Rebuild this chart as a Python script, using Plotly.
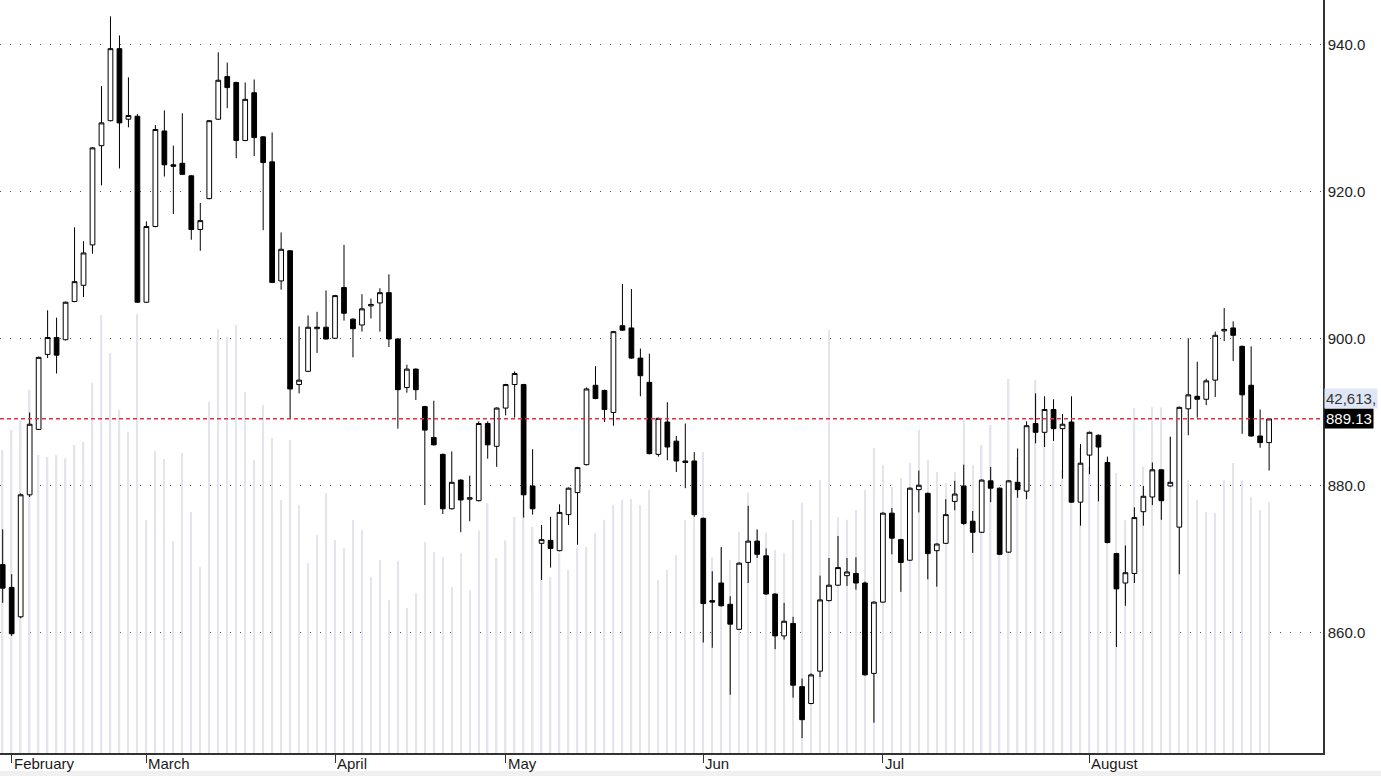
import plotly.graph_objects as go

# ---- data ----
opens = [869.3, 866.2, 862.2, 878.8, 887.7, 897.9, 900.2, 899.9, 905.1, 907.3,
         912.8, 926.3, 929.7, 939.5, 929.9, 930.3, 905.0, 915.3, 928.3, 923.7,
         923.9, 922.2, 914.9, 919.1, 929.9, 935.7, 934.9, 927.0, 933.5, 927.5,
         924.1, 907.9, 912.0, 893.8, 895.6, 901.4, 901.6, 900.1, 907.0, 902.7,
         901.9, 904.5, 904.9, 906.3, 900.0, 893.4, 895.9, 890.8, 886.6, 884.3,
         876.9, 880.8, 878.2, 878.0, 888.5, 885.4, 890.6, 893.8, 893.8, 880.0,
         872.2, 872.6, 871.2, 876.1, 879.1, 882.9, 893.7, 893.0, 890.0, 901.8,
         901.5, 897.4, 894.1, 884.3, 888.7, 886.1, 883.4, 883.4, 875.6, 864.4,
         866.8, 863.9, 860.5, 869.6, 872.5, 870.5, 865.3, 859.6, 861.3, 852.7,
         850.4, 854.8, 864.4, 866.5, 867.8, 868.1, 866.8, 854.5, 864.2, 876.3,
         872.7, 869.9, 879.5, 879.0, 871.2, 872.2, 877.9, 880.0, 875.2, 873.7,
         880.7, 879.7, 871.0, 880.5, 879.3, 888.5, 887.3, 890.4, 887.8, 888.7,
         877.8, 884.2, 886.9, 883.2, 870.8, 866.8, 868.1, 876.5, 878.5, 882.2,
         880.0, 874.4, 890.5, 892.2, 891.8, 894.4, 901.1, 901.5, 899.0, 893.7,
         886.8, 885.9]
highs = [874.1, 868.0, 879.0, 890.0, 897.6, 903.9, 902.9, 905.1, 915.2, 913.3,
         926.1, 934.4, 943.9, 941.3, 935.6, 930.6, 916.0, 929.1, 931.1, 926.3,
         930.7, 922.3, 918.5, 929.8, 939.0, 937.6, 935.0, 934.9, 935.3, 927.6,
         928.1, 914.5, 912.1, 901.7, 903.2, 903.7, 906.6, 906.0, 912.8, 902.8,
         906.1, 905.5, 906.9, 908.8, 900.1, 896.5, 896.0, 890.9, 891.6, 884.4,
         884.7, 880.9, 881.4, 888.8, 888.8, 890.7, 893.9, 895.6, 893.9, 885.0,
         874.7, 875.8, 877.5, 879.8, 882.6, 893.4, 896.3, 893.1, 901.1, 907.5,
         906.8, 898.7, 898.0, 889.3, 891.4, 886.8, 888.5, 884.6, 875.7, 868.4,
         871.7, 865.0, 869.6, 877.3, 874.1, 871.5, 865.4, 864.1, 862.2, 853.8,
         854.5, 867.8, 870.2, 873.2, 870.2, 870.3, 867.0, 864.3, 876.4, 877.0,
         872.8, 879.8, 882.1, 879.1, 872.2, 878.2, 880.7, 882.9, 876.6, 880.9,
         882.6, 879.8, 880.8, 885.1, 888.8, 892.6, 892.2, 891.8, 889.8, 892.2,
         885.7, 887.4, 887.0, 884.0, 870.9, 871.9, 877.1, 880.0, 883.2, 882.3,
         886.7, 890.8, 900.1, 896.9, 894.6, 901.0, 904.2, 902.4, 899.1, 899.0,
         890.4, 889.2]
lows = [864.1, 859.6, 862.0, 878.5, 887.6, 897.4, 895.3, 899.8, 905.0, 905.7,
        911.6, 920.9, 929.6, 923.2, 928.8, 904.9, 904.9, 915.2, 922.1, 917.0,
        922.3, 913.5, 912.0, 919.0, 929.8, 931.4, 924.6, 926.9, 924.9, 914.8,
        907.6, 906.7, 889.1, 892.6, 895.5, 898.1, 899.9, 900.0, 902.5, 897.5,
        901.0, 902.8, 901.0, 898.9, 887.8, 892.7, 891.7, 877.4, 885.5, 876.2,
        876.8, 873.7, 875.2, 877.9, 883.7, 882.6, 889.6, 889.3, 875.7, 876.1,
        867.2, 868.9, 871.1, 874.7, 872.0, 882.8, 891.8, 888.7, 888.2, 901.1,
        897.3, 892.2, 884.3, 884.0, 883.5, 881.9, 879.7, 875.8, 858.7, 858.0,
        863.6, 851.6, 860.4, 866.8, 870.2, 865.2, 857.8, 859.1, 851.2, 845.7,
        850.3, 854.0, 864.3, 866.4, 866.4, 865.9, 854.2, 847.8, 864.1, 870.7,
        865.6, 869.8, 876.4, 867.3, 866.3, 872.1, 876.7, 874.7, 870.9, 873.6,
        877.8, 870.6, 870.9, 878.4, 878.2, 885.8, 885.3, 886.1, 881.0, 877.7,
        874.6, 881.6, 877.9, 872.2, 858.1, 863.7, 866.8, 874.6, 877.4, 875.4,
        879.9, 868.0, 886.9, 889.3, 891.0, 892.1, 899.7, 897.0, 887.1, 886.7,
        885.2, 882.1]
closes = [866.1, 859.9, 878.8, 888.4, 897.5, 900.2, 897.8, 905.0, 907.8, 911.7,
          926.0, 929.4, 939.5, 929.4, 930.4, 905.0, 915.3, 928.5, 923.7, 923.5,
          922.4, 914.9, 916.1, 929.7, 935.2, 934.2, 927.0, 932.6, 927.4, 924.0,
          907.7, 912.2, 893.2, 894.4, 901.6, 901.6, 900.0, 905.9, 903.5, 901.4,
          904.1, 904.7, 906.3, 900.0, 893.1, 895.9, 893.1, 887.6, 885.6, 876.9,
          880.5, 878.1, 878.4, 888.5, 885.6, 890.6, 893.8, 895.3, 878.8, 876.9,
          872.7, 871.5, 876.4, 879.7, 882.5, 893.2, 891.9, 890.4, 901.0, 901.2,
          897.4, 895.0, 884.4, 889.2, 885.3, 883.4, 883.2, 876.1, 864.0, 864.2,
          863.7, 861.2, 869.5, 872.5, 870.7, 865.3, 859.6, 861.6, 852.9, 848.2,
          854.3, 864.5, 866.5, 868.9, 868.3, 866.8, 854.3, 864.2, 876.3, 872.9,
          869.6, 879.7, 880.1, 870.8, 872.1, 876.1, 878.9, 874.9, 873.7, 880.8,
          879.7, 870.7, 880.7, 879.5, 888.2, 887.3, 890.4, 887.8, 888.4, 877.8,
          883.1, 887.3, 885.3, 872.3, 866.0, 868.2, 875.7, 878.6, 882.2, 878.0,
          880.5, 890.7, 892.4, 891.8, 894.3, 900.5, 901.3, 900.5, 892.4, 886.8,
          885.9, 889.13]
volumes = [51510, 54910, 56610, 61710, 50660, 50320, 50660, 50120, 52360, 52870,
           62900, 74460, 68000, 58310, 54570, 74630, 39610, 51340, 49980, 36040,
           51000, 40970, 31620, 59670, 72080, 70720, 72760, 61370, 49810, 59160,
           53550, 43010, 53210, 42160, 32300, 37060, 44200, 36210, 34850, 39610,
           37910, 29920, 32810, 26010, 32650, 24650, 27200, 35870, 34170, 33320,
           28220, 34000, 27710, 37880, 42500, 33150, 36150, 40120, 43010, 38420,
           36260, 29930, 34020, 31110, 34880, 35020, 37400, 39640, 42190, 43050,
           43180, 42170, 44710, 29410, 31130, 33660, 39580, 42470, 51170, 33300,
           34830, 32790, 37570, 44230, 37920, 37420, 34510, 34010, 39620, 42520,
           39590, 46410, 71910, 40110, 39630, 41310, 44690, 51850, 48960, 45220,
           46750, 49300, 54930, 49790, 47770, 45900, 47740, 56590, 48950, 52360,
           55760, 44180, 63580, 50300, 55420, 63410, 54900, 52700, 48110, 55400,
           51830, 48620, 52720, 50150, 47600, 39600, 58650, 48640, 58820, 58790,
           53720, 58800, 46420, 43030, 40970, 40800, 46400, 49280, 46380, 43520,
           41290, 42613]
month_labels = ["February", "March", "April", "May", "Jun", "Jul", "August"]
month_start_idx = [1, 16, 37, 56, 78, 98, 121]
price_ticks = [860, 880, 900, 920, 940]
last_close = 889.13
last_volume_text = "42,613,"

idx = list(range(len(opens)))
FONT = "Liberation Sans, Arial, sans-serif"

fig = go.Figure()

# volume as faint vertical lines (background, on the main y axis)
fig.add_trace(go.Bar(
    x=idx, y=volumes, yaxis="y", width=0.16,
    marker=dict(color="#e4e4ef", line=dict(width=0)),
    hoverinfo="skip", showlegend=False,
))

# candlesticks on the overlaying price axis
fig.add_trace(go.Candlestick(
    x=idx, open=opens, high=highs, low=lows, close=closes, yaxis="y2",
    increasing=dict(line=dict(color="black", width=1), fillcolor="white"),
    decreasing=dict(line=dict(color="black", width=1), fillcolor="black"),
    whiskerwidth=0, showlegend=False,
))

# last price line
fig.add_shape(type="line", xref="paper", x0=0, x1=1, yref="y2",
              y0=last_close, y1=last_close,
              line=dict(color="#dd3344", width=1.5, dash="4px,3px"))

# light strip at the very bottom of the window
fig.add_shape(type="rect", xref="paper", x0=0, x1=1381 / 1323,
              yref="paper", y0=-23 / 753, y1=-18 / 753,
              fillcolor="#f0f0f0", line=dict(width=0), layer="below")

# right-side value boxes
fig.add_annotation(xref="paper", x=1, yref="y2", y=last_close, xanchor="left",
                   yanchor="middle", xshift=1, text=f"{last_close:.2f}",
                   showarrow=False, bgcolor="black", borderpad=1,
                   font=dict(family=FONT, size=15, color="white"))
fig.add_annotation(xref="paper", x=1, yref="y2", y=last_close, xanchor="left",
                   yanchor="middle", xshift=1, yshift=20, text=last_volume_text,
                   showarrow=False, bgcolor="#dfe6f6", borderpad=1,
                   font=dict(family=FONT, size=15, color="#333333"))

# month labels to the right of the tick marks
for lab, i in zip(month_labels, month_start_idx):
    fig.add_annotation(xref="x", x=i, yref="paper", y=0, xanchor="left",
                       yanchor="top", xshift=0, yshift=0, text=lab,
                       showarrow=False,
                       font=dict(family=FONT, size=15, color="#1a1a1a"))

fig.update_layout(
    width=1381, height=776,
    margin=dict(l=0, r=58, t=0, b=23),
    paper_bgcolor="white", plot_bgcolor="white",
    boxgap=0.25,
    showlegend=False,
    xaxis=dict(range=[-0.3, 147.0], showgrid=False, zeroline=False,
               showline=True, linecolor="#333333", linewidth=1.5,
               ticks="outside", ticklen=8, tickcolor="#333333", tickwidth=1,
               tickvals=month_start_idx, ticktext=[""] * len(month_start_idx),
               rangeslider=dict(visible=False)),
    yaxis=dict(range=[0, 128000], visible=False, showgrid=False, zeroline=False,
               fixedrange=True),
    yaxis2=dict(range=[843.67, 946.12], overlaying="y", side="right",
                tickvals=price_ticks, tickformat=".1f",
                showgrid=True, gridcolor="#555555", gridwidth=1, griddash="1px,9px",
                showline=True, linecolor="#333333", linewidth=1.5,
                zeroline=False, ticks="",
                tickfont=dict(family=FONT, size=15, color="#222222")),
)

fig.write_html("out.html", config={"displayModeBar": False},
               post_script="document.body.style.margin='0';document.body.style.overflow='hidden';")
